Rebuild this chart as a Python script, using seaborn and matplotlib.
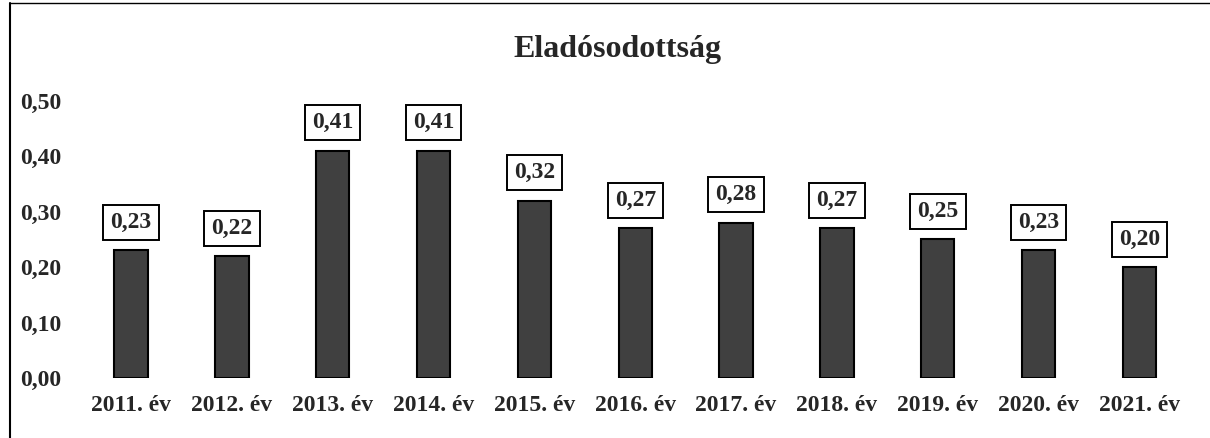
import pandas as pd
import seaborn as sns
import matplotlib.pyplot as plt
from matplotlib.lines import Line2D

# Data
years = ['2011. év', '2012. év', '2013. év', '2014. év', '2015. év', '2016. év',
         '2017. év', '2018. év', '2019. év', '2020. év', '2021. év']
values = [0.23, 0.22, 0.41, 0.41, 0.32, 0.27, 0.28, 0.27, 0.25, 0.23, 0.20]
yticks = [0.0, 0.1, 0.2, 0.3, 0.4, 0.5]

df = pd.DataFrame({'ev': years, 'ertek': values})

sns.set_style('white')
plt.rcParams['font.family'] = ['Liberation Serif', 'DejaVu Serif']
plt.rcParams['font.weight'] = 'bold'

W, H = 1210, 438
fig = plt.figure(figsize=(W / 100, H / 100), dpi=100)
ax = fig.add_axes([70 / W, 60 / H, 1130 / W, (378 - 73) / H])

sns.barplot(data=df, x='ev', y='ertek', color='#404040', width=0.33,
            edgecolor='black', linewidth=1.5, saturation=1, ax=ax)

# value labels in boxes
labels = [f'{v:.2f}'.replace('.', ',') for v in values]
ax.bar_label(ax.containers[0], labels=labels, padding=12.5, fontsize=17,
             fontweight='bold',
             bbox=dict(boxstyle='square,pad=0.3', fc='white', ec='black', lw=1.4))

ax.set_xlim(-0.605, 10.6)
ax.set_ylim(0, 0.55)
ax.set_yticks(yticks)
ax.set_yticklabels([f'{t:.2f}'.replace('.', ',') for t in yticks],
                   fontsize=17, fontweight='bold')
ax.tick_params(axis='x', labelsize=17, pad=12, length=0)
ax.tick_params(axis='y', pad=6, length=0)
for lbl in ax.get_xticklabels():
    lbl.set_fontweight('bold')
ax.set_xlabel('')
ax.set_ylabel('')
sns.despine(ax=ax, left=True, bottom=True)

fig.text(617 / W, 1 - 50 / H, 'Eladósodottság', ha='center', va='center',
         fontsize=23, fontweight='bold')

# outer frame (left and top edges of the scanned box)
fig.add_artist(Line2D([10 / W, 10 / W], [0, 1 - 3 / H], color='black', lw=1.5))
fig.add_artist(Line2D([10 / W, 1], [1 - 3 / H, 1 - 3 / H], color='black', lw=1.0))

fig.savefig('out.png', dpi=100)
